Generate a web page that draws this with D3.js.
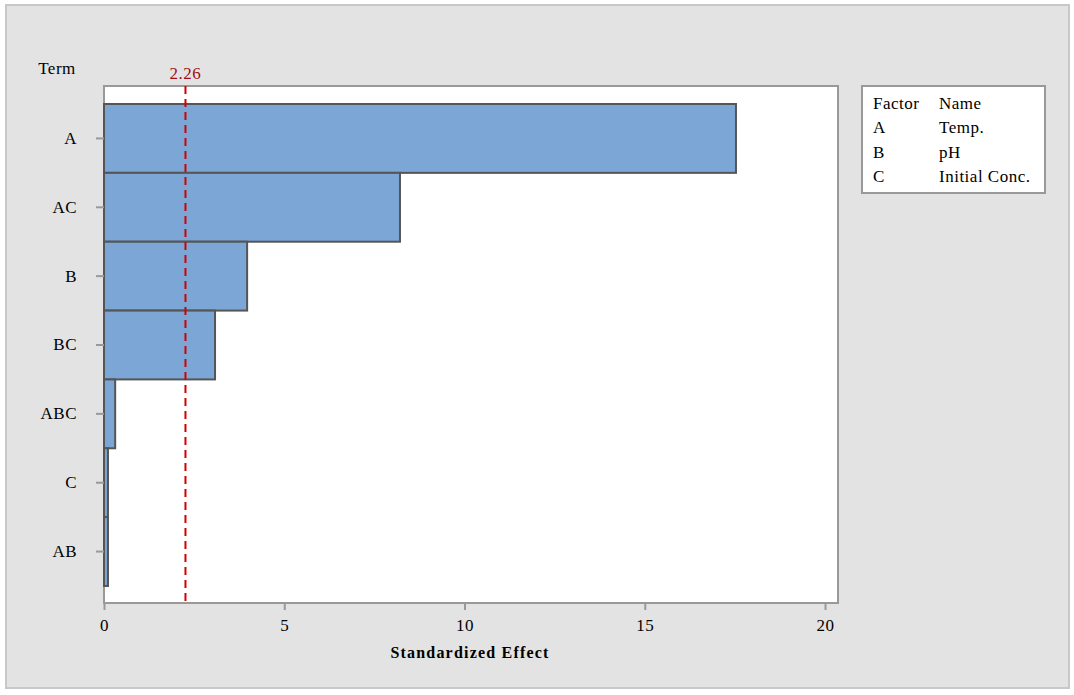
<!DOCTYPE html>
<html><head><meta charset="utf-8">
<script src="https://cdn.jsdelivr.net/npm/d3@7"></script>
<style>body{margin:0;background:#fff}svg{display:block}text{font-family:"Liberation Serif","Times New Roman",serif}</style>
</head><body><svg id="c" width="1074" height="695"></svg>
<script>
const terms = ["A","AC","B","BC","ABC","C","AB"];
const effects = [17.53, 8.21, 3.97, 3.08, 0.31, 0.11, 0.11];
const xTicks = [0,5,10,15,20];
const refValue = 2.26;
const factors = ["A","B","C"];
const factorNames = ["Temp.","pH","Initial Conc."];

const FS = "17px", LS = "0.5px";
const svg = d3.select("#c");
svg.append("rect").attr("x",6).attr("y",5).attr("width",1063).attr("height",683)
  .attr("fill","#e3e3e3").attr("stroke","#c8c8c8").attr("stroke-width",2);

const L=104, R=838, T=86, B=603;
const x = d3.scaleLinear().domain([0,20.36]).range([L,R]);
const y = d3.scaleBand().domain(terms).range([104,586]).padding(0);

svg.append("rect").attr("x",L).attr("y",T).attr("width",R-L).attr("height",B-T)
  .attr("fill","#fff").attr("stroke","#999").attr("stroke-width",2);

// bars
svg.append("g").selectAll("rect").data(terms).join("rect")
  .attr("x",x(0)).attr("y",d=>y(d))
  .attr("width",(d,i)=>x(effects[i])-x(0)).attr("height",y.bandwidth())
  .attr("fill","#7ba6d6").attr("stroke","#555").attr("stroke-width",2);

// reference line
svg.append("line").attr("x1",x(refValue)).attr("x2",x(refValue)).attr("y1",T).attr("y2",B)
  .attr("stroke","#d40000").attr("stroke-width",2).attr("stroke-dasharray","8,5");
svg.append("text").attr("x",x(refValue)).attr("y",79).attr("text-anchor","middle")
  .attr("fill","#a01010").style("font-size",FS).style("letter-spacing",LS).text(refValue.toFixed(2));

// axes
const xAxis = svg.append("g").attr("transform",`translate(0,${B})`)
  .call(d3.axisBottom(x).tickValues(xTicks).tickSize(7).tickPadding(9).tickFormat(d3.format("d")));
const yAxis = svg.append("g").attr("transform",`translate(${L},0)`)
  .call(d3.axisLeft(y).tickSize(8).tickPadding(19));
[xAxis,yAxis].forEach(g=>{
  g.select(".domain").remove();
  g.selectAll(".tick line").attr("stroke","#999").attr("stroke-width",2);
  g.selectAll(".tick text").attr("fill","#000").style("font-size",FS).style("letter-spacing",LS)
    .style("font-family","'Liberation Serif','Times New Roman',serif");
});

svg.append("text").attr("x",57).attr("y",74).attr("text-anchor","middle")
  .style("font-size",FS).style("letter-spacing",LS).text("Term");
svg.append("text").attr("x",470).attr("y",658).attr("text-anchor","middle")
  .style("font-size","16px").style("font-weight","bold").style("letter-spacing","1.2px")
  .text("Standardized Effect");

// legend
svg.append("rect").attr("x",862).attr("y",86).attr("width",183).attr("height",107)
  .attr("fill","#fff").attr("stroke","#999").attr("stroke-width",2);
const lg = svg.append("g").style("font-size",FS).style("letter-spacing",LS);
lg.append("text").attr("x",873).attr("y",109).text("Factor");
lg.append("text").attr("x",939).attr("y",109).text("Name");
factors.forEach((f,i)=>{
  lg.append("text").attr("x",873).attr("y",133+i*24.7).text(f);
  lg.append("text").attr("x",939).attr("y",133+i*24.7).text(factorNames[i]);
});
</script></body></html>
